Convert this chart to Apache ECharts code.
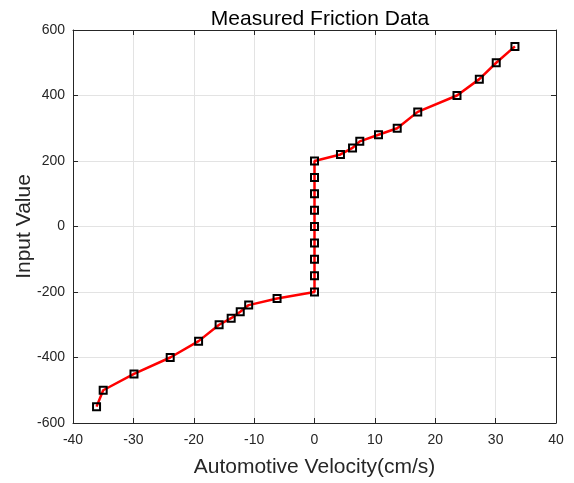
<!DOCTYPE html>
<html>
<head>
<meta charset="utf-8">
<script src="https://cdn.jsdelivr.net/npm/echarts@6/dist/echarts.min.js"></script>
<style>html,body{margin:0;padding:0;background:#fff}#c{width:574px;height:483px}</style>
</head>
<body>
<div id="c"></div>
<script>
const velocity = [-36.1, -35.0, -29.9, -23.9, -19.2, -15.8, -13.8, -12.3, -10.9, -6.2, 0, 0, 0, 0, 0, 0, 0, 0, 0, 4.3, 6.3, 7.5, 10.6, 13.7, 17.1, 23.6, 27.3, 30.1, 33.2];
const inputValue = [-550, -500, -450, -400, -350, -300, -280, -260, -240, -220, -200, -150, -100, -50, 0, 50, 100, 150, 200, 220, 240, 260, 280, 300, 350, 400, 450, 500, 550];
const titleText = 'Measured Friction Data';
const xName = 'Automotive Velocity(cm/s)';
const yName = 'Input Value';

const data = velocity.map((v, i) => [v, inputValue[i]]);
const font = 'Liberation Sans, Arial, sans-serif';
const axisCol = '#262626';
const chart = echarts.init(document.getElementById('c'));
const baseAxis = {
  axisLine: {show: true, onZero: false, lineStyle: {color: axisCol, width: 1}},
  axisTick: {show: true, inside: true, length: 5, lineStyle: {color: axisCol}},
};
chart.setOption({
  animation: false,
  title: {text: titleText, left: 315, top: 4, textAlign: 'center',
    textStyle: {fontFamily: font, fontSize: 21, fontWeight: 'normal', color: '#000'}},
  grid: {left: 73, right: 18, top: 30, bottom: 57},
  xAxis: [
    Object.assign({}, baseAxis, {type: 'value', min: -40, max: 40, interval: 10, position: 'bottom',
      name: xName, nameLocation: 'middle', nameGap: 34, nameMoveOverlap: false,
      nameTextStyle: {fontFamily: font, fontSize: 21, color: axisCol},
      axisLabel: {fontFamily: font, fontSize: 14, color: axisCol, margin: 10},
      splitLine: {show: true, lineStyle: {color: '#e3e3e3', width: 1}}}),
    Object.assign({}, baseAxis, {type: 'value', min: -40, max: 40, interval: 10, position: 'top',
      axisLabel: {show: false}, splitLine: {show: false}})
  ],
  yAxis: [
    Object.assign({}, baseAxis, {type: 'value', min: -600, max: 600, interval: 200, position: 'left',
      name: yName, nameLocation: 'middle', nameGap: 38, nameRotate: 90, nameMoveOverlap: false,
      nameTextStyle: {fontFamily: font, fontSize: 21, color: axisCol},
      axisLabel: {fontFamily: font, fontSize: 14, color: axisCol, margin: 8},
      splitLine: {show: true, lineStyle: {color: '#e3e3e3', width: 1}}}),
    Object.assign({}, baseAxis, {type: 'value', min: -600, max: 600, interval: 200, position: 'right',
      axisLabel: {show: false}, splitLine: {show: false}})
  ],
  series: [{
    type: 'line', data: data, xAxisIndex: 0, yAxisIndex: 0,
    lineStyle: {color: '#ff0000', width: 2.5},
    symbol: 'rect', symbolSize: 7, showAllSymbol: true,
    itemStyle: {color: 'rgba(255,255,255,0)', borderColor: '#000', borderWidth: 2},
    emphasis: {disabled: true}
  }]
});
</script>
</body>
</html>
